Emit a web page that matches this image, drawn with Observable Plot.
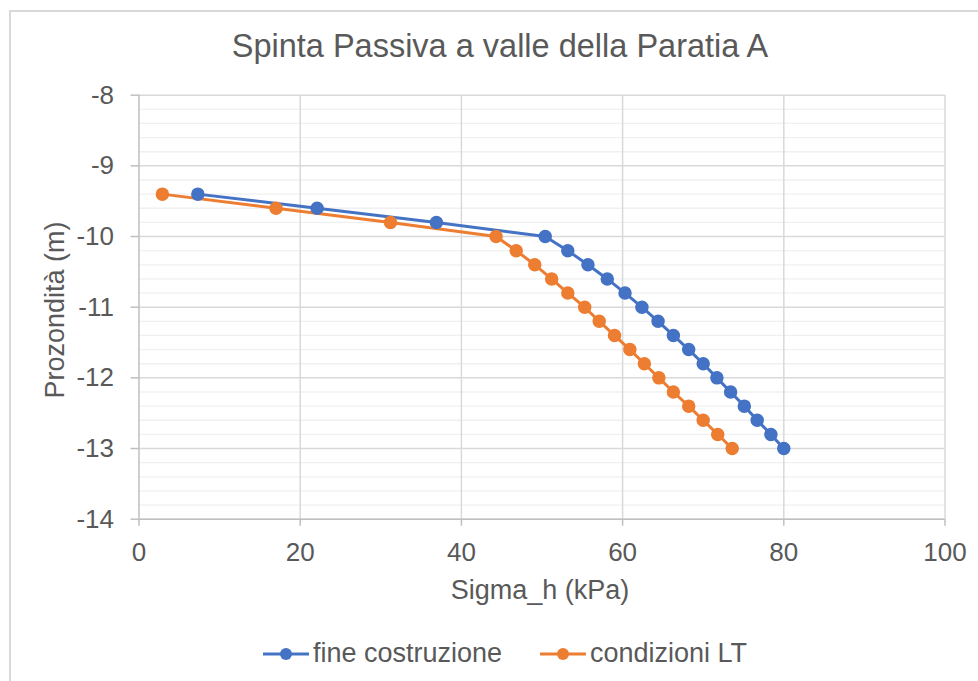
<!DOCTYPE html>
<html>
<head>
<meta charset="utf-8">
<script src="https://cdn.jsdelivr.net/npm/d3@7"></script>
<script src="https://cdn.jsdelivr.net/npm/@observablehq/plot@0.6"></script>
<style>
  html, body { margin: 0; padding: 0; background: #fff; }
  #page { position: relative; width: 978px; height: 681px; overflow: hidden; font-family: "Liberation Sans", Arial, sans-serif; color: #595959; }
  #border { position: absolute; left: 9px; top: 10px; width: 2000px; height: 2000px; border-left: 2px solid #d9d9d9; border-top: 2px solid #d9d9d9; box-sizing: border-box; }
  #title { position: relative; height: 82px; box-sizing: border-box; padding-top: 28px; padding-left: 22px; text-align: center; font-size: 32.5px; line-height: 37px; white-space: nowrap; }
  #chart { position: relative; height: 528px; }
  #chart svg { display: block; }
  #ylabel { position: absolute; left: 55px; top: 310px; transform: translate(-50%, -50%) rotate(-90deg); font-size: 27px; white-space: nowrap; line-height: 30px; }
  #legend { position: relative; height: 71px; display: flex; justify-content: center; align-items: center; padding-left: 32px; padding-top: 16px; box-sizing: border-box; font-size: 27px; }
  .item { display: flex; align-items: center; }
  .item + .item { margin-left: 38px; }
  .item svg { margin-right: 4px; }
</style>
</head>
<body>
<div id="page">
  <div id="border"></div>
  <div id="title">Spinta Passiva a valle della Paratia A</div>
  <div id="chart"></div>
  <div id="legend"></div>
  <div id="ylabel">Prozondità (m)</div>
</div>
<script>
// Data
const seriesNames = ["fine costruzione", "condizioni LT"];
const seriesColors = ["#4472C4", "#ED7D31"];
const depth = [-9.4, -9.6, -9.8, -10, -10.2, -10.4, -10.6, -10.8, -11, -11.2, -11.4, -11.6, -11.8, -12, -12.2, -12.4, -12.6, -12.8, -13];
const sigmaFine = [7.3, 22.1, 36.9, 50.4, 53.2, 55.7, 58.1, 60.3, 62.4, 64.4, 66.3, 68.2, 70.0, 71.7, 73.4, 75.1, 76.7, 78.4, 80.0];
const sigmaLT = [2.9, 17.0, 31.2, 44.3, 46.8, 49.1, 51.2, 53.2, 55.3, 57.1, 59.0, 60.9, 62.7, 64.5, 66.3, 68.2, 70.0, 71.8, 73.6];
const xTicks = [0, 20, 40, 60, 80, 100];
const yTicks = [-14, -13, -12, -11, -10, -9, -8];

const rows = [];
depth.forEach((d, i) => rows.push({series: seriesNames[0], x: sigmaFine[i], y: d}));
depth.forEach((d, i) => rows.push({series: seriesNames[1], x: sigmaLT[i], y: d}));

const minorY = d3.range(-14, -7.99, 0.2).map(v => +v.toFixed(1)).filter(v => !yTicks.includes(v));

const plot = Plot.plot({
  width: 978,
  height: 528,
  marginLeft: 138.5,
  marginRight: 33.5,
  marginTop: 12.7,
  marginBottom: 91.3,
  style: {fontFamily: "'Liberation Sans', Arial, sans-serif", fontSize: "26px", color: "#595959", background: "transparent", overflow: "visible"},
  x: {domain: [0, 100]},
  y: {domain: [-14, -8]},
  color: {domain: seriesNames, range: seriesColors},
  marks: [
    Plot.ruleY(minorY, {stroke: "#f0f0f0", strokeWidth: 1.3}),
    Plot.ruleY(yTicks, {stroke: "#d9d9d9", strokeWidth: 1.5}),
    Plot.ruleX(xTicks.filter(v => v !== 0), {stroke: "#d9d9d9", strokeWidth: 1.5}),
    Plot.ruleX([0], {stroke: "#bfbfbf", strokeWidth: 1.5}),
    Plot.ruleY([-14], {stroke: "#bfbfbf", strokeWidth: 1.5}),
    Plot.axisY(yTicks, {tickSize: 8, tickPadding: 17, stroke: "#bfbfbf", strokeWidth: 1.5, fill: "#595959", label: null, tickFormat: d => String(d)}),
    Plot.axisX(xTicks, {tickSize: 7, tickPadding: 16, stroke: "#bfbfbf", strokeWidth: 1.5, fill: "#595959", label: null, tickFormat: d => String(d)}),
    Plot.line(rows, {x: "x", y: "y", z: "series", stroke: "series", strokeWidth: 3}),
    Plot.dot(rows, {x: "x", y: "y", fill: "series", stroke: "series", r: 6}),
    Plot.text(["Sigma_h (kPa)"], {text: d => d, frameAnchor: "bottom", dy: 79.5, dx: -2, fill: "#595959", fontSize: 27})
  ]
});
document.getElementById("chart").appendChild(plot);

const legend = document.getElementById("legend");
seriesNames.forEach((name, i) => {
  const item = document.createElement("div");
  item.className = "item";
  item.innerHTML = `<svg width="46" height="16" viewBox="0 0 46 16"><line x1="0" y1="8" x2="46" y2="8" stroke="${seriesColors[i]}" stroke-width="3"/><circle cx="23" cy="8" r="6" fill="${seriesColors[i]}"/></svg><span>${name}</span>`;
  legend.appendChild(item);
});
</script>
</body>
</html>
